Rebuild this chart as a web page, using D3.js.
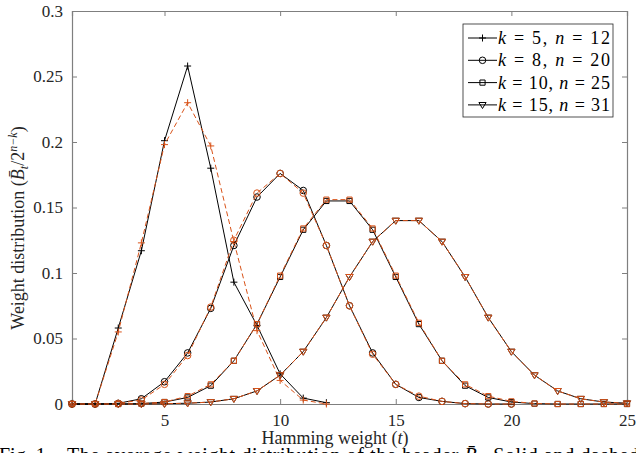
<!DOCTYPE html>
<html>
<head>
<meta charset="utf-8">
<script src="https://cdn.jsdelivr.net/npm/d3@7"></script>
<style>
  body { margin: 0; background: #fff; }
  text { font-family: "Liberation Serif", "Times New Roman", serif; }
</style>
</head>
<body>
<svg id="chart" width="636" height="453"></svg>
<script>
// Hamming weights t (x categories)
const weights = d3.range(1, 26);
const xTicks = [5, 10, 15, 20, 25];
const yTicks = [0, 0.05, 0.1, 0.15, 0.2, 0.25, 0.3];

// solid (black) and dashed (orange) values per code
const k5Solid  = [0, 0, 0.058, 0.117, 0.201, 0.258, 0.180, 0.093, 0.060, 0.023, 0.0045, 0.001];
const k5Dash   = [0, 0, 0.055, 0.123, 0.198, 0.230, 0.197, 0.124, 0.056, 0.018, 0.003, 0];
const k8Solid  = [0, 0, 0.0005, 0.004, 0.017, 0.039, 0.073, 0.121, 0.158, 0.176, 0.163, 0.121, 0.075, 0.039, 0.015, 0.005, 0.002, 0.0003, 0, 0];
const k8Dash   = [0, 0, 0.0005, 0.003, 0.015, 0.037, 0.074, 0.125, 0.161, 0.176, 0.161, 0.121, 0.075, 0.038, 0.015, 0.006, 0.002, 0.0003, 0, 0];
const k10Solid = [0, 0, 0, 0.0003, 0.0015, 0.005, 0.014, 0.033, 0.061, 0.097, 0.133, 0.155, 0.155, 0.133, 0.097, 0.061, 0.033, 0.014, 0.005, 0.0015, 0.0003, 0, 0, 0, 0];
const k10Dash  = [0, 0, 0, 0.0003, 0.0015, 0.006, 0.015, 0.033, 0.061, 0.098, 0.134, 0.156, 0.156, 0.134, 0.098, 0.062, 0.033, 0.015, 0.006, 0.002, 0.0004, 0, 0, 0, 0];
const k15Solid = [0, 0, 0, 0, 0.0002, 0.0006, 0.0015, 0.004, 0.010, 0.022, 0.040, 0.066, 0.097, 0.124, 0.140, 0.140, 0.124, 0.097, 0.066, 0.040, 0.022, 0.010, 0.004, 0.0015, 0.0006];
const k15Dash  = [0, 0, 0, 0, 0.0002, 0.0006, 0.0015, 0.004, 0.010, 0.022, 0.040, 0.066, 0.097, 0.124, 0.140, 0.140, 0.124, 0.097, 0.066, 0.040, 0.022, 0.010, 0.004, 0.0015, 0.0006];

const legendK = ["5", "8", "10", "15"];
const legendN = ["12", "20", "25", "31"];

//
//plot box
var boxLeft = 72, boxRight = 627, boxTop = 11, boxBottom = 404;
var svg = d3.select("#chart");
var axisColor = "#7f7f7f";
var orange = "#D95319";

var x = d3.scaleLinear().domain([1, 25]).range([boxLeft, boxRight]);
var y = d3.scaleLinear().domain([0, 0.3]).range([boxBottom, boxTop]);

var fmt = (d) => String(+d.toFixed(2));

//
//axes with inward ticks on all four sides
svg.append("g").attr("class", "ax")
  .attr("transform", "translate(0," + boxBottom + ")")
  .call(d3.axisBottom(x).tickValues(xTicks).tickSize(-5).tickPadding(10).tickFormat(d3.format("d")));
svg.append("g").attr("class", "ax")
  .attr("transform", "translate(0," + boxTop + ")")
  .call(d3.axisTop(x).tickValues(xTicks).tickSize(-5).tickFormat(""));
svg.append("g").attr("class", "ax")
  .attr("transform", "translate(" + boxLeft + ",0)")
  .call(d3.axisLeft(y).tickValues(yTicks).tickSize(-5).tickPadding(9).tickFormat(fmt));
svg.append("g").attr("class", "ax")
  .attr("transform", "translate(" + boxRight + ",0)")
  .call(d3.axisRight(y).tickValues(yTicks).tickSize(-5).tickFormat(""));

svg.selectAll(".ax").attr("font-family", null).attr("font-size", null);
svg.selectAll(".ax path").attr("stroke", axisColor).attr("stroke-width", 1.2);
svg.selectAll(".ax line").attr("stroke", axisColor).attr("stroke-width", 1);
svg.selectAll(".ax text")
  .style("font-size", "17px")
  .attr("fill", "#262626");

//
//marker shapes
function marker(shape) {
  if (shape == "plus") return "M-3.5,0H3.5M0,-3.5V3.5";
  if (shape == "circle") return d3.symbol(d3.symbolCircle, 34)();
  if (shape == "square") return "M-2.6,-2.6H2.6V2.6H-2.6Z";
  return "M-3.6,-2.4H3.6L0,3.6Z";
}

var series = [
  { solid: k5Solid, dash: k5Dash, shape: "plus" },
  { solid: k8Solid, dash: k8Dash, shape: "circle" },
  { solid: k10Solid, dash: k10Dash, shape: "square" },
  { solid: k15Solid, dash: k15Dash, shape: "triangle" }
];

var line = d3.line()
  .x((d, i) => x(weights[i]))
  .y((d) => y(d));

var plot = svg.append("g");

function drawSeries(vals, shape, color, dashed) {
  plot.append("path")
    .datum(vals)
    .attr("fill", "none")
    .attr("stroke", color)
    .attr("stroke-width", 1)
    .attr("stroke-dasharray", dashed ? "5,3" : null)
    .attr("d", line);
  plot.append("g")
    .selectAll("path")
    .data(vals)
    .enter()
    .append("path")
    .attr("transform", (d, i) => "translate(" + x(weights[i]) + "," + y(d) + ")")
    .attr("d", marker(shape))
    .attr("fill", "none")
    .attr("stroke", color)
    .attr("stroke-width", 1);
}

series.forEach((s) => {
  drawSeries(s.solid, s.shape, "#000", false);
  drawSeries(s.dash, s.shape, orange, true);
});

//
//legend
var lg = svg.append("g");
lg.append("rect")
  .attr("x", 463).attr("y", 24).attr("width", 150).attr("height", 93)
  .attr("fill", "#fff").attr("stroke", "#262626").attr("stroke-width", 0.8);

series.forEach((s, i) => {
  var ly = 38 + i * 22.3;
  lg.append("line")
    .attr("x1", 468).attr("x2", 497).attr("y1", ly).attr("y2", ly)
    .attr("stroke", "#000").attr("stroke-width", 1);
  lg.append("path")
    .attr("transform", "translate(482.5," + ly + ")")
    .attr("d", marker(s.shape))
    .attr("fill", "none").attr("stroke", "#000");
  var t = lg.append("text")
    .attr("x", 498).attr("y", ly + 6)
    .attr("textLength", 112).attr("lengthAdjust", "spacing")
    .style("font-size", "18px").attr("fill", "#000");
  t.append("tspan").style("font-style", "italic").text("k");
  t.append("tspan").text(" = " + legendK[i] + (legendK[i].length == 1 ? ",  " : ", "));
  t.append("tspan").style("font-style", "italic").text("n");
  t.append("tspan").text(" = " + legendN[i]);
});

//
//axis labels
var xl = svg.append("text")
  .attr("x", 335).attr("y", 444)
  .attr("text-anchor", "middle")
  .style("font-size", "18px").attr("fill", "#262626");
xl.append("tspan").text("Hamming weight (");
xl.append("tspan").style("font-style", "italic").text("t");
xl.append("tspan").text(")");

var yl = svg.append("text")
  .attr("transform", "translate(24,228) rotate(-90)")
  .attr("text-anchor", "middle")
  .style("font-size", "18px").attr("fill", "#262626");
yl.append("tspan").text("Weight distribution (");
yl.append("tspan").style("font-style", "italic").text("B\u0304");
yl.append("tspan").style("font-style", "italic").style("font-size", "12px").attr("dy", 4).text("t");
yl.append("tspan").attr("dy", -4).text("/2");
yl.append("tspan").style("font-style", "italic").style("font-size", "12px").attr("dy", -7).text("n\u2212k");
yl.append("tspan").attr("dy", 7).text(")");

//
//caption (cut off at the bottom edge)
svg.append("text")
  .attr("x", -1).attr("y", 462)
  .style("font-size", "20px").attr("fill", "#000")
  .text("Fig. 1.");
var cap = svg.append("text")
  .attr("x", 67).attr("y", 462)
  .style("font-size", "20px").attr("fill", "#000")
  .attr("textLength", 572).attr("lengthAdjust", "spacing");
cap.append("tspan").text("The average weight distribution of the header ");
cap.append("tspan").style("font-style", "italic").text("B\u0304");
cap.append("tspan").style("font-style", "italic").style("font-size", "14px").attr("dy", 3).text("t");
cap.append("tspan").attr("dy", -3).text(". Solid and dashed");
</script>
</body>
</html>
